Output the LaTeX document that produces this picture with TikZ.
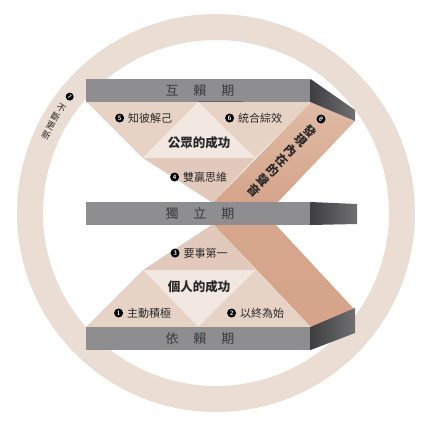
\documentclass[tikz,border=0pt]{standalone}
\usepackage{fontspec}
\newfontfamily\cjk{Noto Sans CJK TC}
\usetikzlibrary{positioning}
\definecolor{ringc}{HTML}{EADDD3}
\definecolor{midc}{HTML}{E6D3C6}
\definecolor{lowc}{HTML}{E1CABB}
\definecolor{lightc}{HTML}{F2E8E1}
\definecolor{bandtop}{HTML}{E0BBA6}
\definecolor{bandbot}{HTML}{D5A48A}
\definecolor{barc}{HTML}{8E8E90}
\definecolor{facedark}{HTML}{3E3E40}
\definecolor{facelight}{HTML}{707072}
\definecolor{txtc}{HTML}{2A2A2A}
\definecolor{bartxt}{HTML}{3A3A3A}
\begin{document}
\begin{tikzpicture}[x=1pt,y=-1pt,
  barbox/.style={fill=barc, draw=none},
  face/.style={left color=facedark, right color=facelight, draw=none},
  lbl/.style={font=\cjk\fontsize{11}{11}\selectfont, text=txtc, inner sep=0pt},
  numc/.style={circle, fill=black, text=white, font=\sffamily\bfseries\fontsize{6.5}{6.5}\selectfont, inner sep=0pt, minimum size=9pt},
  ringnum/.style={circle, fill=black, text=white, font=\sffamily\bfseries\fontsize{5.5}{5.5}\selectfont, inner sep=0pt, minimum size=8pt},
  titletxt/.style={font=\cjk\bfseries\fontsize{12.5}{12.5}\selectfont, text=txtc, inner sep=0pt},
  bartext/.style={font=\cjk\fontsize{13}{13}\selectfont, text=bartxt, inner sep=0pt},
  voicetxt/.style={font=\cjk\bfseries\fontsize{12}{12}\selectfont, text=txtc, inner sep=0pt, rotate=-44},
  ringtxt/.style={font=\cjk\fontsize{9}{9}\selectfont, text=txtc, inner sep=0pt}]
\useasboundingbox (0,0) rectangle (425,426);
\fill[white] (0,0) rectangle (425,426);
% ring
\fill[ringc, even odd rule] (216,213) circle[radius=199pt] (216,213) circle[radius=173pt];
% upper hourglass
\fill[midc] (87,102) -- (198,102) -- (143,158) -- cycle;
\fill[midc] (198,102) -- (311,102) -- (255,158) -- cycle;
\fill[lightc] (198,102) -- (255,158) -- (143,158) -- cycle;
\fill[lowc] (143,158) -- (255,158) -- (213,203) -- cycle;
% lower hourglass
\fill[lowc] (213,224) -- (256,270) -- (143,270) -- cycle;
\fill[lightc] (143,270) -- (256,270) -- (198,327) -- cycle;
\fill[midc] (143,270) -- (198,327) -- (86,327) -- cycle;
\fill[midc] (256,270) -- (311,327) -- (198,327) -- cycle;
% band
\shade[top color=bandtop, bottom color=bandbot] (311,102) -- (355,121) -- (277,203) -- (213,203) -- cycle;
\shade[top color=bandbot!90!bandtop, bottom color=bandbot] (213,224) -- (275,224) -- (355,310) -- (311,327) -- cycle;
% bars
\fill[barc] (86,79) rectangle (311,102);
\draw[black!60, line width=0.8pt] (198,101.6) -- (243,101.6);
\shade[face] (310.5,79) -- (355,110) -- (355,121) -- (310.5,102) -- cycle;
\fill[barc] (86,202) rectangle (311,225);
\shade[face] (310.5,202) -- (357,204) -- (357,224) -- (310.5,225) -- cycle;
\fill[barc] (86,327) rectangle (311,350);
\shade[face] (310.5,327) -- (355,308) -- (355,333) -- (310.5,350) -- cycle;
% bar texts
\node[bartext] (b1) at (200,91) {互\hspace{15pt}賴\hspace{15pt}期};
\node[bartext] (b2) at (200,214) {獨\hspace{15pt}立\hspace{15pt}期};
\node[bartext] (b3) at (200,339) {依\hspace{15pt}賴\hspace{15pt}期};
% labels
\node[lbl] (l5) at (150,118) {知彼解己};
\node[numc, left=3.5pt of l5] (n5) {5};
\node[lbl] (l6) at (260,118) {統合綜效};
\node[numc, left=3.5pt of l6] (n6) {6};
\node[titletxt] (pub) at (199,143) {公眾的成功};
\node[lbl] (l4) at (205,177) {雙贏思維};
\node[numc, left=3.5pt of l4] (n4) {4};
\node[lbl] (l3) at (205.5,253) {要事第一};
\node[numc, left=3.5pt of l3] (n3) {3};
\node[titletxt] (pri) at (199,287) {個人的成功};
\node[lbl] (l1) at (149,313) {主動積極};
\node[numc, left=3.5pt of l1] (n1) {1};
\node[lbl] (l2) at (262,313) {以終為始};
\node[numc, left=3.5pt of l2] (n2) {2};
% band text
\node[numc, rotate=-44] (n8) at (321,119) {8};
\node[voicetxt] (v1) at (310,131) {發};
\node[voicetxt] (v2) at (300.7,140.8) {現};
\node[voicetxt] (v3) at (291.3,150.7) {內};
\node[voicetxt] (v4) at (282,160.5) {在};
\node[voicetxt] (v5) at (272.7,170.3) {的};
\node[voicetxt] (v6) at (263.3,180.2) {聲};
\node[voicetxt] (v7) at (254,190) {音};
% ring text
\node[ringnum, rotate=-38.5] (n7) at (69.7,96.6) {7};
\node[ringtxt, rotate=-34] (r1) at (61.0,108.4) {不};
\node[ringtxt, rotate=-31] (r2) at (55.5,117.0) {斷};
\node[ringtxt, rotate=-28] (r3) at (50.6,125.8) {更};
\node[ringtxt, rotate=-25] (r4) at (46.1,134.9) {新};
\end{tikzpicture}
\end{document}
